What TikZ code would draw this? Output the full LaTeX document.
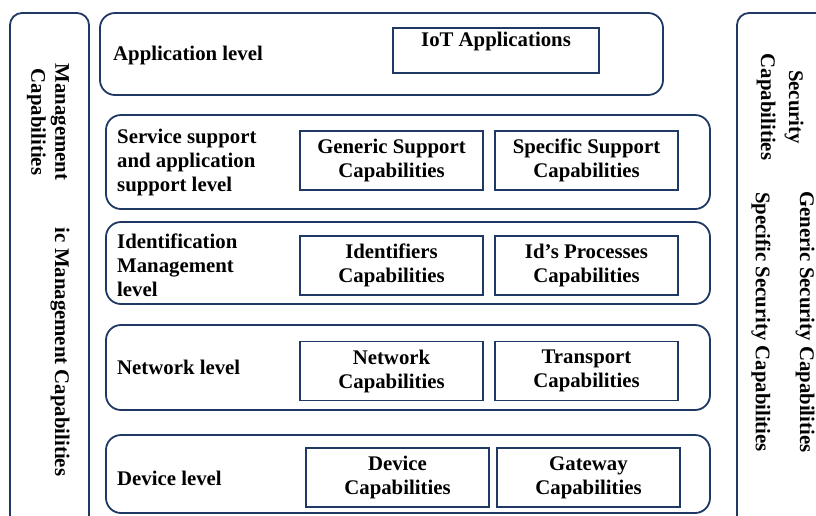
\documentclass[tikz,border=0pt]{standalone}
\usepackage{fontspec}
\setmainfont{Liberation Serif}
\definecolor{navy}{HTML}{1F3864}
\begin{document}
\begin{tikzpicture}[x=1pt,y=-1pt,
  every node/.style={font=\fontsize{20.8}{24}\selectfont\bfseries, text=black},
  outerbox/.style={draw=navy, line width=1.8pt, rounded corners=12pt, inner sep=0pt},
  levelbox/.style={draw=navy, line width=1.8pt, rounded corners=15pt, inner sep=0pt},
  capbox/.style={draw=navy, line width=1.8pt, inner sep=0pt, align=center, minimum width=183pt, minimum height=59pt},
  lvllabel/.style={anchor=west, align=left, inner sep=0pt},
  vtext/.style={rotate=-90, align=center, inner sep=0pt}
]
\useasboundingbox (0,0) rectangle (816,515);
\fill[white] (0,0) rectangle (816,515);
\clip (0,0) rectangle (816,515);

% side columns
\node[outerbox, minimum width=79pt, minimum height=520pt] (mgmt) at (49.5,273) {};
\node[outerbox, minimum width=100pt, minimum height=520pt] (sec) at (787,273) {};

\node[vtext] (mgmtt) at (48,122) {Management\\Capabilities};
\node[vtext] (mgmtg) at (60,352) {ic Management Capabilities};
\node[vtext, font=\fontsize{20.8}{28}\selectfont\bfseries] (sect) at (780,107) {Security\\Capabilities};
\node[vtext] (secg) at (805,322) {Generic Security Capabilities};
\node[vtext] (secs) at (761,322) {Specific Security Capabilities};

% application level
\node[levelbox, minimum width=563pt, minimum height=82pt] (app) at (381.5,54) {};
\node[lvllabel] (appl) at (113,55) {Application level};
\node[draw=navy, line width=1.8pt, inner sep=0pt, minimum width=206pt, minimum height=45pt] (iot) at (496,50.5) {};
\node[anchor=north, inner sep=0pt] (iott) at ([yshift=-5pt]iot.north) {IoT Applications};

% service support level
\node[levelbox, minimum width=604pt, minimum height=94pt] (svc) at (408,162) {};
\node[lvllabel] (svcl) at (117,162) {Service support\\and application\\support level};
\node[capbox] (gsc) at (391.5,160.5) {Generic Support\\Capabilities};
\node[capbox] (ssc) at (586.5,160.5) {Specific Support\\Capabilities};

% identification level
\node[levelbox, minimum width=604pt, minimum height=82pt] (idm) at (408,263) {};
\node[lvllabel] (idml) at (117,265) {Identification\\Management\\level};
\node[capbox] (idc) at (391.5,265.5) {Identifiers\\Capabilities};
\node[capbox] (ipc) at (586.5,265.5) {Id’s Processes\\Capabilities};

% network level
\node[levelbox, minimum width=604pt, minimum height=85pt] (net) at (408,367.5) {};
\node[lvllabel] (netl) at (117,367) {Network level};
\node[capbox] (ncap) at (391.5,371) {Network\\Capabilities};
\node[capbox] (tcap) at (586.5,371) {Transport\\Capabilities};

% device level
\node[levelbox, minimum width=604pt, minimum height=78pt] (dev) at (408,474) {};
\node[lvllabel] (devl) at (117,478) {Device level};
\node[capbox] (dcap) at (397.5,477.5) {Device\\Capabilities};
\node[capbox] (gcap) at (588.5,477.5) {Gateway\\Capabilities};
\end{tikzpicture}
\end{document}
